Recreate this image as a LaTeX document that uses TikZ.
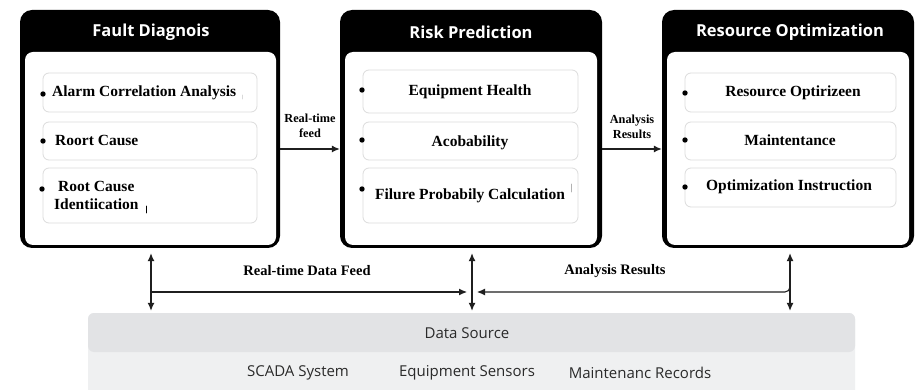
\documentclass[tikz,border=0pt]{standalone}
\usepackage{fontspec}
\setmainfont{Liberation Serif}
\setsansfont{Open Sans}
\usetikzlibrary{arrows.meta,calc}

\definecolor{bandtop}{HTML}{E2E3E5}
\definecolor{bandlow}{HTML}{EFF0F1}
\definecolor{itemline}{HTML}{DCDCDC}
\definecolor{bandtext}{HTML}{2A2A2A}

\begin{document}
\begin{tikzpicture}[x=1pt,y=-1pt,
  panel/.style={fill=black, rounded corners=12pt, inner sep=0pt},
  panelbody/.style={fill=white, rounded corners=8pt, inner sep=0pt},
  paneltitle/.style={text=white, font=\sffamily\bfseries\fontsize{16.5}{19}\selectfont, inner sep=0pt},
  itembox/.style={draw=itemline, line width=0.8pt, fill=white, rounded corners=6pt, inner sep=0pt},
  itemtext/.style={font=\bfseries\fontsize{15.5}{18}\selectfont, inner sep=0pt},
  bullet/.style={circle, fill=black, inner sep=0pt, minimum size=5.4pt},
  smalllabel/.style={font=\bfseries\fontsize{12.3}{14.5}\selectfont, align=center, inner sep=0pt},
  flowlabel/.style={font=\bfseries\fontsize{14.5}{17}\selectfont, inner sep=0pt},
  bandlabel/.style={font=\sffamily\fontsize{15}{18}\selectfont, text=bandtext, inner sep=0pt},
  conn/.style={draw=black!88, line width=1.1pt, -{Latex[length=8pt,width=7pt]}},
  dconn/.style={draw=black!88, line width=1.1pt, {Latex[length=8pt,width=7pt]}-{Latex[length=8pt,width=7pt]}},
  stray/.style={line width=0.9pt, line cap=round}]

% canvas
\useasboundingbox (0,0) rectangle (916,390);
\fill[white] (0,0) rectangle (916,390);

% ---------- data source band ----------
\fill[bandlow, rounded corners=6pt] (88,313) rectangle (855,398);
\node[fill=bandtop, rounded corners=6pt, inner sep=0pt,
      minimum width=767pt, minimum height=39pt] (ds) at (471.5,332.5) {};
\node[bandlabel] (dslabel) at (467,333) {Data Source};
\node[bandlabel] (scada) at (298,373) {SCADA System};
\node[bandlabel] (sensors) at (467,373) {Equipment Sensors};
\node[bandlabel] (records) at (640,373) {Maintenanc Records};

% ---------- Fault Diagnois panel ----------
\node[panel, minimum width=260pt, minimum height=238pt] (fd) at (150,129) {};
\node[panelbody, minimum width=251pt, minimum height=193pt] (fdbody) at (150.5,148.5) {};
\node[paneltitle] (fdtitle) at (151,32) {Fault Diagnois};

\node[itembox, minimum width=214pt, minimum height=39pt] (fd1) at (150,92.5) {};
\node[itembox, minimum width=214pt, minimum height=38pt] (fd2) at (150,141) {};
\node[itembox, minimum width=214pt, minimum height=55pt] (fd3) at (150,195.5) {};
\node[bullet] (fdb1) at (43,94) {};
\node[bullet] (fdb2) at (43,141) {};
\node[bullet] (fdb3) at (42,189) {};
\node[itemtext, anchor=west] (fdt1) at (52,93) {Alarm Correlation Analysis};
\node[itemtext, anchor=west] (fdt2) at (55,140) {Roort Cause};
\node[itemtext, anchor=west, align=left] (fdt3) at (54,195) {\hspace*{4pt}Root Cause\\Identiication};
\draw[stray, black!15] (242,95) -- (242,99);
\draw[stray, black] (146,206) -- (146,213);

% ---------- Risk Prediction panel ----------
\node[panel, minimum width=262pt, minimum height=238pt] (rp) at (471,129) {};
\node[panelbody, minimum width=252pt, minimum height=193pt] (rpbody) at (471,148.5) {};
\node[paneltitle] (rptitle) at (471,32) {Risk Prediction};

\node[itembox, minimum width=215pt, minimum height=43pt] (rp1) at (470.5,91.5) {};
\node[itembox, minimum width=215pt, minimum height=38pt] (rp2) at (470.5,141) {};
\node[itembox, minimum width=215pt, minimum height=55pt] (rp3) at (470.5,195.5) {};
\node[bullet] (rpb1) at (362,90) {};
\node[bullet] (rpb2) at (362,140) {};
\node[bullet] (rpb3) at (362,189) {};
\node[itemtext] (rpt1) at (470,92) {Equipment Health};
\node[itemtext] (rpt2) at (470,143) {Acobability};
\node[itemtext] (rpt3) at (470,196) {Filure Probabily Calculation};
\draw[stray, black!30] (571,184) -- (571,192);

% ---------- Resource Optimization panel ----------
\node[panel, minimum width=252pt, minimum height=238pt] (ro) at (788,129) {};
\node[panelbody, minimum width=242pt, minimum height=193pt] (robody) at (788,148.5) {};
\node[paneltitle] (rotitle) at (790,32) {Resource Optimization};

\node[itembox, minimum width=211pt, minimum height=39pt] (ro1) at (790.5,92.5) {};
\node[itembox, minimum width=211pt, minimum height=38pt] (ro2) at (790.5,141) {};
\node[itembox, minimum width=211pt, minimum height=39pt] (ro3) at (790.5,187.5) {};
\node[bullet] (rob1) at (685,93) {};
\node[bullet] (rob2) at (685,140) {};
\node[bullet] (rob3) at (685,187) {};
\node[itemtext] (rot1) at (793,93) {Resource Optirizeen};
\node[itemtext] (rot2) at (790,140) {Maintentance};
\node[itemtext] (rot3) at (789,187) {Optimization Instruction};

% ---------- panel-to-panel flow ----------
\coordinate (feedy) at (0,149);
\draw[conn] (fd.east |- feedy) -- (rp.west |- feedy);
\node[smalllabel] (feedlbl) at (310,126) {Real-time\\feed};
\draw[conn] (rp.east |- feedy) -- (ro.west |- feedy);
\node[smalllabel] (reslbl) at (632,127) {Analysis\\Results};

% ---------- links down to the data source ----------
\coordinate (v1) at (151,0);
\coordinate (v2) at (472,0);
\coordinate (v3) at (790,0);
\coordinate (hy) at (0,292);

\draw[dconn] ($(fd.south -| v1)+(0,5)$) -- ($(ds.north -| v1)+(0,-2)$);
\draw[dconn] ($(rp.south -| v2)+(0,5)$) -- ($(ds.north -| v2)+(0,-2)$);
\draw[dconn] ($(ro.south -| v3)+(0,5)$) -- ($(ds.north -| v3)+(0,-2)$);

\draw[conn] (v1 |- hy) -- ($(v2 |- hy)+(-5,0)$);
\draw[conn, rounded corners=5pt] ($(v3 |- hy)+(0,-10)$) |- ($(v2 |- hy)+(5,0)$);

\node[flowlabel] (rtdf) at (307,271) {Real-time Data Feed};
\node[flowlabel] (arlbl) at (615,271) {Analysis Results};

\end{tikzpicture}
\end{document}
